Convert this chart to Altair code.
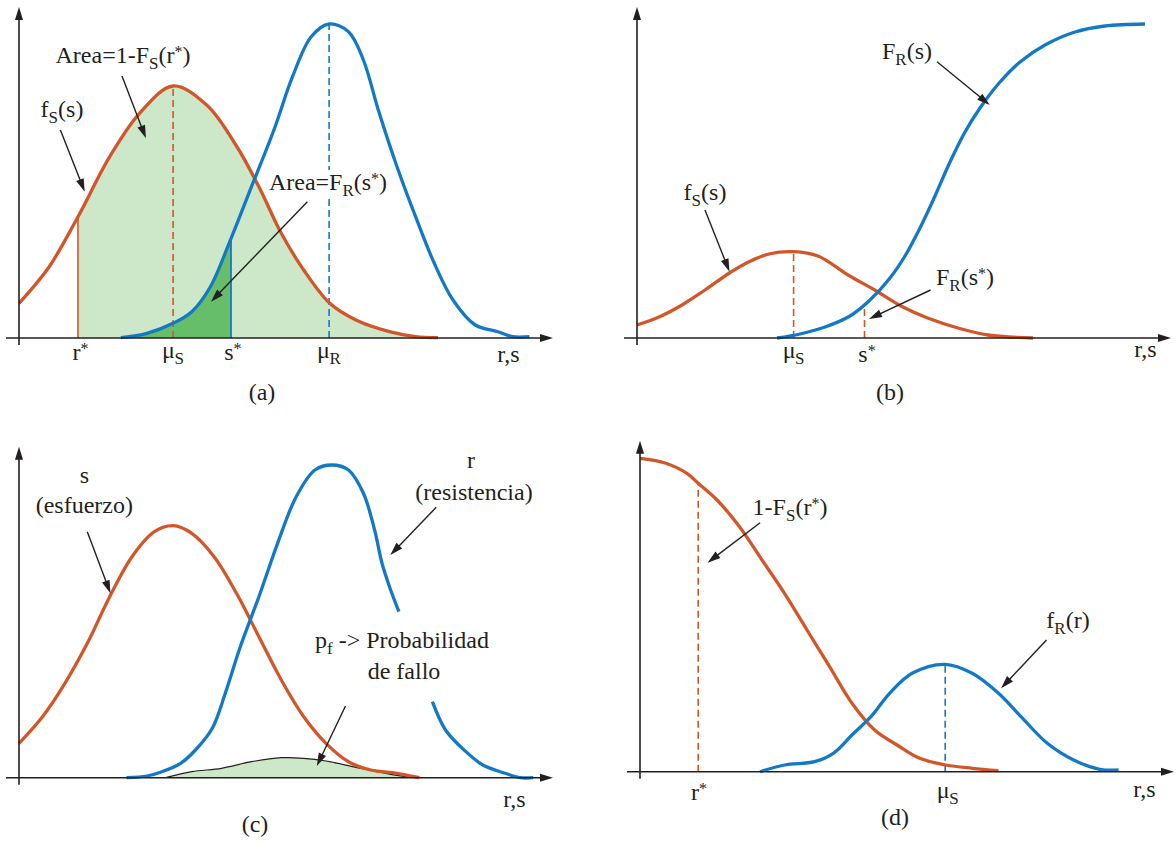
import math
import re
import altair as alt
import pandas as pd

# ---------------- style ----------------
FONT = "Liberation Serif"
INK = "#231F20"
ORANGE = "#D1572B"
BLUE = "#1479C4"
LIGHT_GREEN = "#CDE7C9"
DARK_GREEN = "#66BD6A"
FS_MAIN, FS_SUB, FS_SUP = 24, 17, 16
SUB_DY, SUP_DY = -6, 6
CURVE_W = 3.3
INTERP = "catmull-rom"
HEAD = "M0,0 L0.62,2 L-0.62,2 Z"   # arrow head, tip at origin, pointing up
HEAD_SIZE = 169

# ---------------- data (panel-local units: x from the vertical axis, y above the horizontal axis) ----------------
# (a)
A_FS_X = [0, 30, 59, 90.7, 120.5, 154.1, 187.7, 217.5, 239.9, 262.3, 284.7, 310.8, 336.9, 370.5, 396.6, 419]
A_FS_Y = [34.7, 71, 121.3, 181.3, 224.7, 252, 233, 192, 151.3, 104.7, 68, 34.7, 18, 6.3, 1.3, 0.3]
A_FR_X = [101.9, 128, 154.1, 172.8, 191.4, 210.1, 232.5, 254.9, 273.5, 292.2, 310.1, 329.5, 344.4, 359.3,
          378, 396.6, 415.3, 434, 456.3, 478.7, 493.7, 510.4]
A_FR_Y = [0.3, 4.7, 14.7, 26.3, 51.3, 94.7, 151.3, 208, 261.3, 301.3, 314, 306.3, 278, 228,
          171.3, 121.3, 74.7, 38, 13, 6.3, 1.3, 1.3]
A_RSTAR, A_RSTAR_TOP = 59, 121.3
A_SSTAR, A_SSTAR_TOP = 212, 98
A_MUS, A_MUS_TOP = 154.1, 252
A_MUR, A_MUR_TOP = 310.1, 314

# (b)
B_FS_X = [0, 22.6, 45, 68, 92.5, 109.5, 132, 156.6, 181, 211, 237.7, 264, 290.6, 321, 351, 396]
B_FS_Y = [13, 21.3, 33, 48, 65, 75, 84, 86.3, 82, 63, 48, 32, 20, 10, 3, 0]
B_FR_X = [140, 163, 188, 213, 233, 253, 268, 283, 298, 313, 328, 343, 363, 383, 408, 438, 468, 508]
B_FR_Y = [0, 4, 11, 22, 38, 60, 82, 110, 142, 176, 206, 230, 256, 276, 293, 306, 312, 314]
B_MUS, B_MUS_TOP = 156.6, 86.3
B_SSTAR, B_SSTAR_TOP = 227.5, 33

# (c)
C_FS_X = [0, 23.5, 45.9, 68.3, 90.7, 113, 135.4, 154.1, 172.8, 195.1, 217.5, 239.9, 262.3, 284.7, 307,
          329.5, 351.9, 378, 400.4]
C_FS_Y = [34.4, 61, 94.4, 134.4, 181, 221, 246, 252, 244.4, 221, 184.4, 141, 97.7, 61, 34.4, 16, 7.7, 4.4, 0]
C_FR1_X = [107.5, 128, 142.9, 161.6, 176.5, 193.3, 206.3, 221.3, 239.9, 258.6, 277.2, 295.9, 312.7, 329.5,
           344.4, 355.6, 363, 370.5, 379.9]
C_FR1_Y = [0, 1.7, 6, 14.4, 27.7, 49.4, 84.4, 131, 181, 234.4, 281, 307.7, 312.7, 307.7, 284.4, 247.7,
           214.4, 191, 166]
C_FR2_X = [413.4, 426.5, 445.1, 463.8, 486.2, 501.1, 514.2]
C_FR2_Y = [76, 47.7, 27.7, 12.7, 4.4, 0, 0]
C_PF_X = [146.6, 172.8, 202.6, 232.5, 262.3, 284.7, 307, 336.9, 366.8, 392.9]
C_PF_Y = [0, 6, 9.4, 16, 20, 19.4, 16.7, 10.4, 4.4, 0]

# (d)
D_FS_X = [0, 24.4, 46.9, 58.2, 77, 99.5, 122, 144.5, 167, 189.6, 212, 234.6, 257.1, 279.7, 305.9, 332.2, 358.5]
D_FS_Y = [313.4, 309, 298.4, 288.4, 271.7, 245, 211.7, 178.4, 141.7, 105, 68.4, 41.7, 26.7, 13.4, 6.7, 3.4, 1]
D_FR_X = [120.1, 144.5, 174.5, 193.3, 212, 230.9, 249.6, 272.1, 305.2, 332.2, 358.5, 381, 407.3, 433.6,
          459.8, 478.6]
D_FR_Y = [0, 6.7, 10, 18.4, 36.7, 55, 78.4, 98.4, 107.4, 98.4, 78.4, 55, 28.4, 11.7, 2.4, 1.7]
D_RSTAR, D_RSTAR_TOP = 58.2, 288.4
D_MUS, D_MUS_TOP = 305.2, 107.4

# labels: (markup, centre x, baseline y, white background)
A_LABELS = [("Area=1-F_{S}(r^{*})", 104, 275, False), ("f_{S}(s)", 43, 221, False),
            ("Area=F_{R}(s^{*})", 309, 148, True), ("r^{*}", 61.6, -22, False), ("μ_{S}", 154, -20, False),
            ("s^{*}", 213.8, -22, False), ("μ_{R}", 310, -20, False), ("r,s", 490, -24, False),
            ("(a)", 243, -62, False)]
B_LABELS = [("F_{R}(s)", 270, 279, False), ("f_{S}(s)", 68, 138, False), ("F_{R}(s^{*})", 328, 53, False),
            ("μ_{S}", 156.6, -20, False), ("s^{*}", 230, -24, False), ("r,s", 509, -19, False),
            ("(b)", 253, -62, False)]
C_LABELS = [("s", 65.3, 294.4, False), ("(esfuerzo)", 65.3, 264.4, False), ("r", 452, 309.4, False),
            ("(resistencia)", 455, 277.7, False), ("p_{f} -> Probabilidad", 383, 129.4, False),
            ("de fallo", 385, 98.4, False), ("r,s", 496, -29, False), ("(c)", 236, -54, False)]
D_LABELS = [("1-F_{S}(r^{*})", 150, 256.7, False), ("f_{R}(r)", 428, 143.4, False), ("r^{*}", 58.9, -28.3, False),
            ("μ_{S}", 307.8, -26.6, False), ("r,s", 505, -25, False), ("(d)", 255, -53.3, False)]

# annotation arrows: (x start, y start, x tip, y tip)
A_ARROWS = [(103, 262, 126.9, 199.7), (41.4, 208, 65.7, 146.3), (288.4, 136.3, 192, 36.3)]
B_ARROWS = [(300, 276.3, 352.8, 233), (68, 128, 92.5, 66.3), (293.6, 48, 232, 19)]
C_ARROWS = [(68.3, 246, 91.4, 184.4), (417.2, 270.4, 371.3, 222.7), (326.5, 71.7, 297.8, 11.7)]
D_ARROWS = [(120.1, 249, 67.6, 209), (406.5, 131.7, 361.1, 83.4)]

AX_LEFT, AX_RIGHT, AX_BOTTOM, AX_TOP = -13, 534, -7, 331

# ---------------- text metrics (Times / Liberation Serif advance widths, em/1000) ----------------
W = {' ': 250, '(': 333, ')': 333, '*': 500, ',': 250, '-': 333, '=': 564, '>': 564, '1': 500,
     'A': 722, 'F': 556, 'P': 556, 'R': 667, 'S': 556, 'a': 444, 'b': 500, 'c': 444, 'd': 500, 'e': 444,
     'f': 333, 'i': 278, 'l': 278, 'n': 500, 'o': 500, 'p': 500, 'r': 333, 's': 389, 't': 278, 'u': 500,
     'y': 500, 'z': 444, 'μ': 520}
STY = {"n": (FS_MAIN, 0), "sub": (FS_SUB, SUB_DY), "sup": (FS_SUP, SUP_DY)}


def tw(t, fs):
    return sum(W.get(ch, 500) for ch in t) / 1000 * fs


def parse(markup):
    out = []
    for m in re.finditer(r"_\{([^}]*)\}|\^\{([^}]*)\}|([^_^]+)", markup):
        if m.group(1) is not None:
            out.append((m.group(1), "sub"))
        elif m.group(2) is not None:
            out.append((m.group(2), "sup"))
        else:
            out.append((m.group(3), "n"))
    return out


def layout(labels):
    rows, boxes = [], []
    for markup, cx, by, bg in labels:
        pieces = parse(markup)
        total = sum(tw(t, STY[s][0]) for t, s in pieces)
        x = cx - total / 2
        for t, s in pieces:
            fs, dy = STY[s]
            lead = len(t) - len(t.lstrip(" "))
            rows.append(dict(x=x + tw(t[:lead], fs), y=by + dy, text=t.strip(), fs=fs))
            x += tw(t, fs)
        if bg:
            boxes.append(dict(x=cx - total / 2 - 2, x2=cx + total / 2 + 2, y=by - 8, y2=by + 20))
    return pd.DataFrame(rows), pd.DataFrame(boxes)


def arrows_df(arrows):
    lines, heads = [], []
    for x1, y1, x2, y2 in arrows:
        dx, dy = x2 - x1, y2 - y1
        L = math.hypot(dx, dy)
        ang = math.degrees(math.atan2(dx, dy)) % 360
        lines.append(dict(x=x1, y=y1, x2=x2 - 5 * dx / L, y2=y2 - 5 * dy / L))
        heads.append(dict(x=x2, y=y2, ang=ang))
    return pd.DataFrame(lines), pd.DataFrame(heads)


def panel(xdom, ydom, w, h, areas, curves, rules, arrows, labels):
    sx = alt.Scale(domain=xdom, nice=False, zero=False)
    sy = alt.Scale(domain=ydom, nice=False, zero=False)
    X = lambda f="x": alt.X(f"{f}:Q", scale=sx, axis=None)
    Y = lambda f="y": alt.Y(f"{f}:Q", scale=sy, axis=None, stack=None)
    layers = []
    # filled regions
    for xs, ys, col, outline in areas:
        df = pd.DataFrame({"x": xs, "y": ys, "y0": [0] * len(xs)})
        layers.append(alt.Chart(df).mark_area(interpolate=INTERP, color=col, opacity=1).encode(
            x=X(), y=Y(), y2="y0:Q"))
        if outline:
            layers.append(alt.Chart(df).mark_line(interpolate=INTERP, color=INK, strokeWidth=1.2).encode(
                x=X(), y=Y()))
    # vertical reference lines
    for xv, top, col, dashed, width in rules:
        df = pd.DataFrame({"x": [xv], "y": [0], "y2": [top]})
        kw = dict(color=col, strokeWidth=width)
        if dashed:
            kw["strokeDash"] = [7, 4]
        layers.append(alt.Chart(df).mark_rule(**kw).encode(x=X(), y=Y(), y2="y2:Q"))
    # curves
    for segs, col in curves:
        rows = []
        for k, (xs, ys) in enumerate(segs):
            rows += [dict(x=a, y=b, seg=k) for a, b in zip(xs, ys)]
        layers.append(alt.Chart(pd.DataFrame(rows)).mark_line(
            interpolate=INTERP, color=col, strokeWidth=CURVE_W, strokeCap="butt").encode(
            x=X(), y=Y(), detail="seg:N"))
    # axes
    ax_lines = pd.DataFrame([dict(x=AX_LEFT, y=0, x2=AX_RIGHT - 6, y2=0),
                             dict(x=0, y=AX_BOTTOM, x2=0, y2=AX_TOP - 6)])
    ax_heads = pd.DataFrame([dict(x=AX_RIGHT, y=0, ang=90), dict(x=0, y=AX_TOP, ang=0)])
    layers.append(alt.Chart(ax_lines).mark_rule(color=INK, strokeWidth=1.6).encode(
        x=X(), y=Y(), x2="x2:Q", y2="y2:Q"))
    layers.append(alt.Chart(ax_heads).mark_point(shape=HEAD, filled=True, size=HEAD_SIZE, color=INK,
                                                 opacity=1, strokeWidth=0).encode(
        x=X(), y=Y(), angle=alt.Angle("ang:Q", scale=None)))
    # annotation arrows
    if arrows:
        al, ah = arrows_df(arrows)
        layers.append(alt.Chart(al).mark_rule(color=INK, strokeWidth=1.4).encode(
            x=X(), y=Y(), x2="x2:Q", y2="y2:Q"))
        layers.append(alt.Chart(ah).mark_point(shape=HEAD, filled=True, size=HEAD_SIZE, color=INK,
                                               opacity=1, strokeWidth=0).encode(
            x=X(), y=Y(), angle=alt.Angle("ang:Q", scale=None)))
    # labels
    tdf, bdf = layout(labels)
    if len(bdf):
        layers.append(alt.Chart(bdf).mark_rect(color="white").encode(x=X(), x2="x2:Q", y=Y(), y2="y2:Q"))
    layers.append(alt.Chart(tdf).mark_text(font=FONT, align="left", baseline="alphabetic", color=INK).encode(
        x=X(), y=Y(), text="text:N", size=alt.Size("fs:Q", scale=None)))
    return alt.layer(*layers).properties(width=w, height=h)


# ---------------- panels ----------------
a_light = [(x, y) for x, y in zip(A_FS_X, A_FS_Y) if x >= A_RSTAR]
a_dark = [(x, y) for x, y in zip(A_FR_X, A_FR_Y) if x < A_SSTAR - 3] + [(A_SSTAR, A_SSTAR_TOP)]

pa = panel([-19, 569], [-82, 338], 588, 420,
           areas=[([p[0] for p in a_light], [p[1] for p in a_light], LIGHT_GREEN, False),
                  ([p[0] for p in a_dark], [p[1] for p in a_dark], DARK_GREEN, False)],
           curves=[([(A_FS_X, A_FS_Y)], ORANGE), ([(A_FR_X, A_FR_Y)], BLUE)],
           rules=[(A_RSTAR, A_RSTAR_TOP, ORANGE, False, 1.6), (A_SSTAR, A_SSTAR_TOP, BLUE, False, 1.8),
                  (A_MUS, A_MUS_TOP, ORANGE, True, 1.6), (A_MUR, A_MUR_TOP, BLUE, True, 1.6)],
           arrows=A_ARROWS, labels=A_LABELS)

pb = panel([-49, 539], [-82, 338], 588, 420,
           areas=[],
           curves=[([(B_FS_X, B_FS_Y)], ORANGE), ([(B_FR_X, B_FR_Y)], BLUE)],
           rules=[(B_MUS, B_MUS_TOP, ORANGE, True, 1.6), (B_SSTAR, B_SSTAR_TOP, ORANGE, True, 1.6)],
           arrows=B_ARROWS, labels=B_LABELS)

pc = panel([-19, 569], [-64.3, 357.7], 588, 422,
           areas=[(C_PF_X, C_PF_Y, LIGHT_GREEN, True)],
           curves=[([(C_FS_X, C_FS_Y)], ORANGE), ([(C_FR1_X, C_FR1_Y), (C_FR2_X, C_FR2_Y)], BLUE)],
           rules=[],
           arrows=C_ARROWS, labels=C_LABELS)

pd_ = panel([-52, 536], [-70.3, 351.7], 588, 422,
            areas=[],
            curves=[([(D_FS_X, D_FS_Y)], ORANGE), ([(D_FR_X, D_FR_Y)], BLUE)],
            rules=[(D_RSTAR, D_RSTAR_TOP, ORANGE, True, 1.6), (D_MUS, D_MUS_TOP, BLUE, True, 1.6)],
            arrows=D_ARROWS, labels=D_LABELS)

chart = alt.concat(pa, pb, pc, pd_, columns=2, spacing=0, bounds="flush").properties(
    padding=0, background="white").configure_view(stroke=None)

chart.save("out.html", embed_options={"renderer": "svg", "actions": False})
